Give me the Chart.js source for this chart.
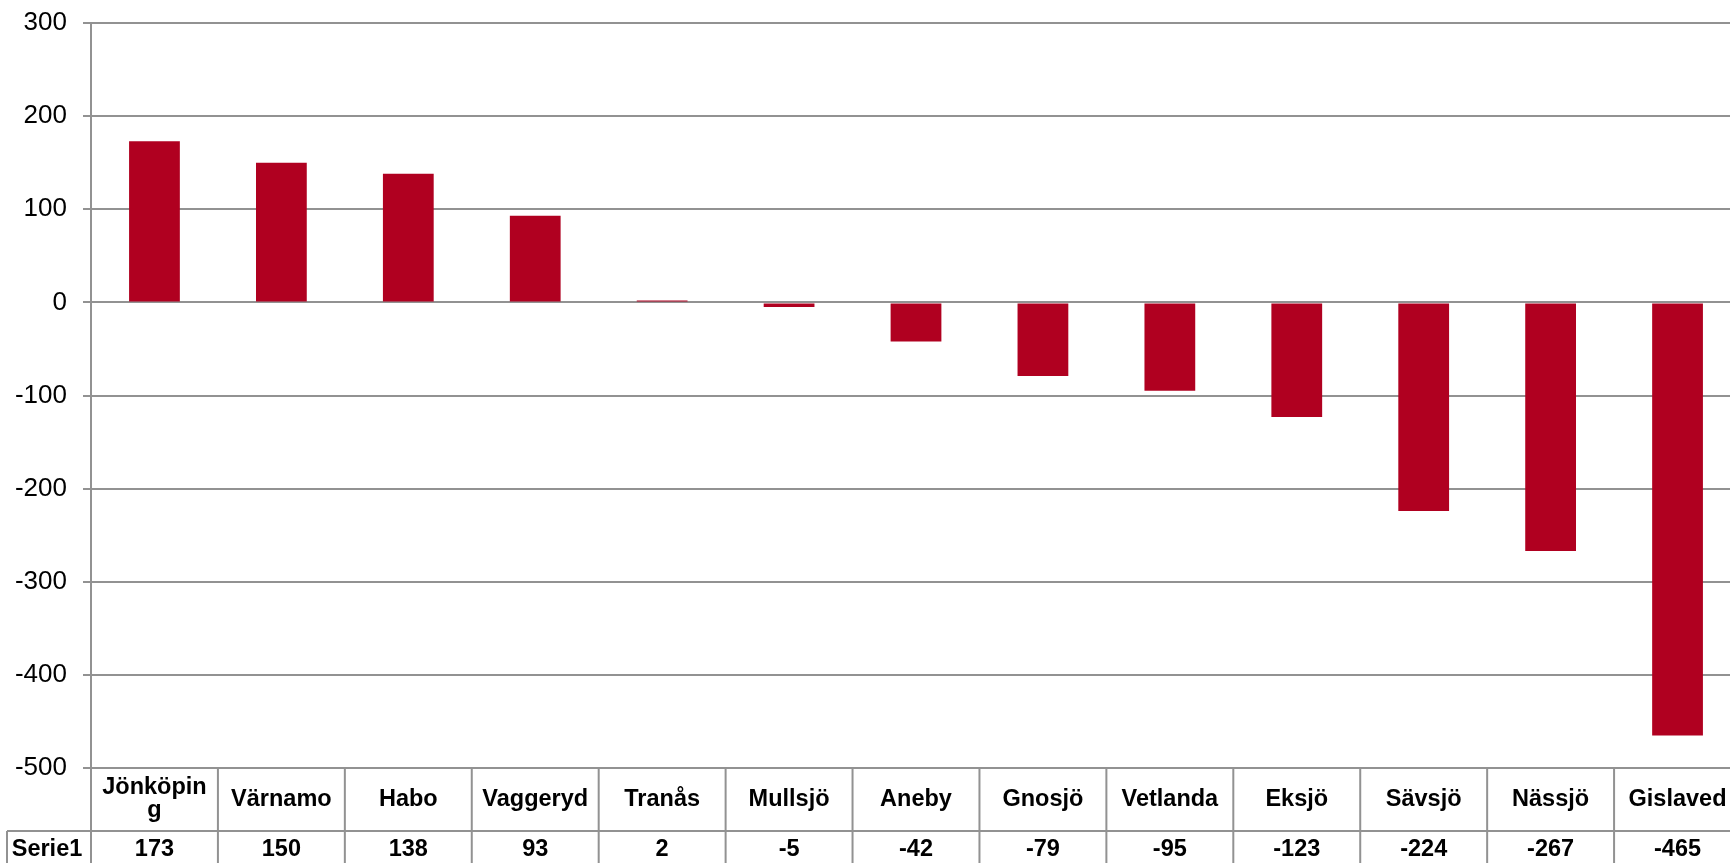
<!DOCTYPE html>
<html>
<head>
<meta charset="utf-8">
<script src="https://cdn.jsdelivr.net/npm/chart.js@4"></script>
<style>
    html, body { margin: 0; padding: 0; background: #fff; overflow: hidden; }
    #wrap { width: 1730px; height: 863px; overflow: hidden; }
</style>
</head>
<body>
<div id="wrap"><canvas id="grafico" width="1745" height="863"></canvas></div>
<script>
const kommuner = ["Jönköping", "Värnamo", "Habo", "Vaggeryd", "Tranås", "Mullsjö", "Aneby", "Gnosjö", "Vetlanda", "Eksjö", "Sävsjö", "Nässjö", "Gislaved"];
const serie1 = [173, 150, 138, 93, 2, -5, -42, -79, -95, -123, -224, -267, -465];
const serieNamn = "Serie1";
const yTicks = [300, 200, 100, 0, -100, -200, -300, -400, -500];

const gra = "#929292";
const fontFamilj = "'Liberation Sans', Arial, sans-serif";

// ritar datatabellen under diagrammet
const tabellPlugin = {
    id: "datatabell",
    afterDraw(chart) {
        const ctx = chart.ctx;
        const x = chart.scales.x;
        const area = chart.chartArea;
        const bredd = x.getPixelForValue(1) - x.getPixelForValue(0);
        const topp = area.bottom;
        const mitt = topp + 63;
        const botten = mitt + 35;

        ctx.save();
        ctx.strokeStyle = gra;
        ctx.lineWidth = 2;
        ctx.beginPath();
        ctx.moveTo(area.left, topp);
        ctx.lineTo(area.right, topp);
        ctx.moveTo(7, mitt);
        ctx.lineTo(area.right, mitt);
        ctx.moveTo(7, botten);
        ctx.lineTo(area.right, botten);
        ctx.moveTo(7, mitt);
        ctx.lineTo(7, botten);
        for (let i = 0; i <= kommuner.length; i++) {
            const kx = area.left + i * bredd;
            ctx.moveTo(kx, topp);
            ctx.lineTo(kx, botten);
        }
        ctx.stroke();

        ctx.fillStyle = "#000";
        ctx.font = "bold 23.5px " + fontFamilj;
        ctx.textAlign = "center";
        ctx.textBaseline = "middle";

        kommuner.forEach((namn, i) => {
            const cx = x.getPixelForValue(i);
            // radbrytning per tecken som i Excel
            const rader = [];
            let rad = "";
            for (const tecken of namn) {
                if (ctx.measureText(rad + tecken).width > bredd - 12 && rad) {
                    rader.push(rad);
                    rad = tecken;
                } else {
                    rad += tecken;
                }
            }
            rader.push(rad);
            const radHojd = 23;
            const start = (topp + mitt) / 2 - (rader.length - 1) * radHojd / 2;
            rader.forEach((r, j) => ctx.fillText(r, cx, start + j * radHojd));

            ctx.fillText(String(serie1[i]), cx, (mitt + botten) / 2 + 1);
        });

        ctx.fillText(serieNamn, 47, (mitt + botten) / 2 + 1);
        ctx.restore();
    },
};

const ctxGraf = document.getElementById("grafico").getContext("2d");
new Chart(ctxGraf, {
    type: "bar",
    data: {
        labels: kommuner,
        datasets: [
            {
                label: serieNamn,
                data: serie1,
                backgroundColor: "#B00020",
                borderWidth: 0,
                barPercentage: 0.4,
                categoryPercentage: 1,
            },
        ],
    },
    options: {
        responsive: false,
        animation: false,
        layout: {
            padding: { top: 23, bottom: 95, left: 0, right: 4 },
        },
        plugins: {
            legend: { display: false },
            tooltip: { enabled: false },
        },
        scales: {
            x: {
                display: false,
            },
            y: {
                min: -500,
                max: 300,
                afterBuildTicks: (scale) => {
                    scale.ticks = yTicks.map((v) => ({ value: v }));
                },
                afterFit: (scale) => {
                    scale.width = 91;
                    scale.paddingTop = 0;
                    scale.paddingBottom = 0;
                },
                grid: {
                    color: gra,
                    lineWidth: 2,
                    tickLength: 8,
                    drawTicks: true,
                },
                border: {
                    color: gra,
                    width: 2,
                },
                ticks: {
                    color: "#000",
                    padding: 16,
                    font: { family: fontFamilj, size: 26 },
                },
            },
        },
    },
    plugins: [tabellPlugin],
});
</script>
</body>
</html>
